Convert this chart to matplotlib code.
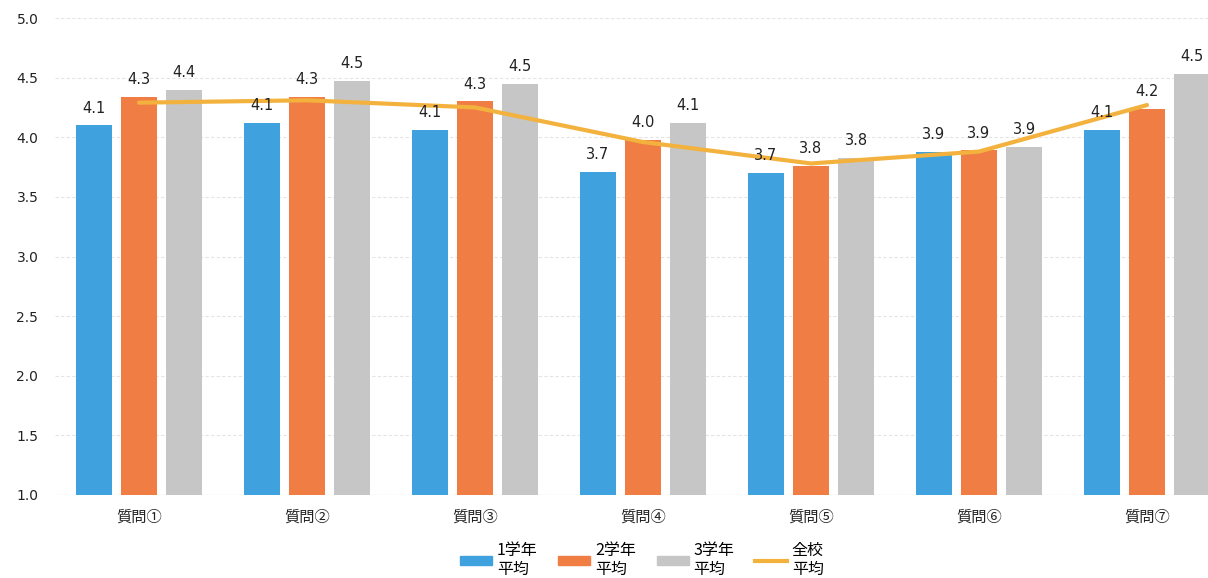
import matplotlib
matplotlib.use("Agg")
import matplotlib.pyplot as plt
import numpy as np
from matplotlib.patches import Patch
from matplotlib.lines import Line2D

plt.rcParams['font.family'] = ['Noto Sans CJK JP', 'DejaVu Sans']

categories = ["質問①", "質問②", "質問③", "質問④", "質問⑤", "質問⑥", "質問⑦"]
grade1 = [4.10, 4.12, 4.06, 3.71, 3.70, 3.88, 4.06]
grade2 = [4.34, 4.34, 4.30, 3.98, 3.76, 3.89, 4.24]
grade3 = [4.40, 4.47, 4.45, 4.12, 3.83, 3.92, 4.53]
school = [4.29, 4.31, 4.25, 3.96, 3.78, 3.88, 4.27]
series_labels = ["1学年\n平均", "2学年\n平均", "3学年\n平均", "全校\n平均"]
yticks = [1.0, 1.5, 2.0, 2.5, 3.0, 3.5, 4.0, 4.5, 5.0]

c_blue = "#3FA1DD"
c_orange = "#EF7D44"
c_gray = "#C6C6C6"
c_line = "#F3B23E"

W, H = 1208, 578
fig = plt.figure(figsize=(W / 100, H / 100), dpi=100)
ax = fig.add_axes([55 / W, 1 - 495 / H, 1 - 55 / W, (495 - 18) / H])

x = np.arange(len(categories))
bw = 0.21
off = 0.268
for vals, col, dx in [(grade1, c_blue, -off), (grade2, c_orange, 0), (grade3, c_gray, off)]:
    ax.bar(x + dx, np.array(vals) - 1.0, bottom=1.0, width=bw, color=col, zorder=2)
    for xi, v in zip(x + dx, vals):
        ax.annotate(f"{v:.1f}", (xi, v), xytext=(0, 7), textcoords="offset points",
                    ha="center", va="bottom", fontsize=10.5, color="#222222",
                    family=['DejaVu Sans'], zorder=5)

ax.plot(x, school, color=c_line, lw=3, zorder=4, solid_capstyle="round")

ax.set_ylim(1.0, 5.0)
ax.set_xlim(-0.5, 6.5 - 23 / 168)
ax.set_yticks(yticks)
ax.set_yticklabels([f"{t:.1f}" for t in yticks], fontsize=10, color="#222222", family=['DejaVu Sans'])
ax.set_xticks(x)
ax.set_xticklabels(categories, fontsize=11, color="#222222")
ax.tick_params(axis="x", length=0, pad=10)
ax.tick_params(axis="y", length=0, pad=12)
ax.yaxis.grid(True, color="#E4E4E4", lw=0.8, linestyle=(0, (3, 2)), zorder=0)
for s in ax.spines.values():
    s.set_visible(False)
ax.axhline(1.0, color="#E0E0E0", lw=0.8, zorder=1)

handles = [Patch(color=c_blue), Patch(color=c_orange), Patch(color=c_gray),
           Line2D([0], [0], color=c_line, lw=3)]
fig.legend(handles, series_labels, loc="center", bbox_to_anchor=(642 / W, 1 - 560 / H),
           ncol=4, frameon=False, fontsize=11.5, handlelength=2.0, handleheight=0.5,
           columnspacing=1.3, handletextpad=0.3, labelspacing=0.2)

fig.savefig("out.png", dpi=100, facecolor="white")
